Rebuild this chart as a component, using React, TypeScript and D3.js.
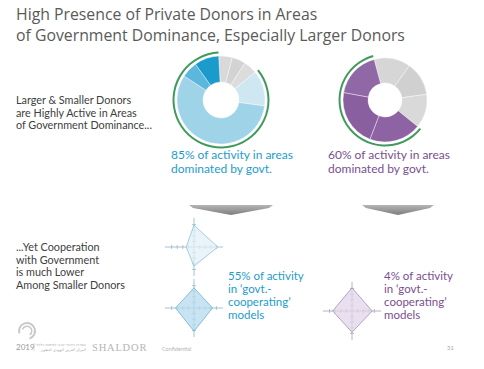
import React from "react";
import * as d3 from "d3";

// donut shares, clockwise from the top
const largeDonorSegments = ["other-a", "other-b", "other-c", "gov-light", "gov-main", "gov-mid", "gov-dark"];
const largeDonorShares = [5, 5, 5, 13, 57, 6, 9];
const smallDonorSegments = ["other-a", "other-b", "other-c", "gov-a", "gov-b", "gov-c"];
const smallDonorShares = [14, 13, 13, 20, 22, 18];

// radar values: top, right, bottom, left
const radarAxes = ["top", "right", "bottom", "left"];
const largeRadarUpper = [0.78, 0.85, 0.68, 0.28];
const largeRadarLower = [0.72, 0.66, 0.83, 0.66];
const smallRadar = [0.83, 0.72, 0.76, 0.69];

const titleLines = ["High Presence of Private Donors in Areas", "of Government Dominance, Especially Larger Donors"];
const topNote = ["Larger & Smaller Donors", "are Highly Active in Areas", "of Government Dominance..."];
const bottomNote = ["...Yet Cooperation", "with Government", "is much Lower", "Among Smaller Donors"];
const largeShareLabel = ["85% of activity in areas", "dominated by govt."];
const smallShareLabel = ["60% of activity in areas", "dominated by govt."];
const largeCoopLabel = ["55% of activity", "in \u2018govt.-", "cooperating\u2019", "models"];
const smallCoopLabel = ["4% of activity", "in \u2018govt.-", "cooperating\u2019", "models"];

const largeColors = ["#d9d9d9", "#d3d3d3", "#dcdcdc", "#cfe7f1", "#9fd3e8", "#5cb7dc", "#1b9bcb"];
const smallColors = ["#d6d6d6", "#d0d0d0", "#d9d9d9", "#8e63a3", "#8a5f9f", "#9068a5"];

const BODY_FONT = "Lato, 'Open Sans', sans-serif";

type DonutProps = {
  cx: number; cy: number; outer: number; inner: number;
  values: number[]; keys: string[]; colors: string[];
  startDeg: number; firstGov: number;
};

const Donut = ({ cx, cy, outer, inner, values, keys, colors, startDeg, firstGov }: DonutProps) => {
  const start = (startDeg * Math.PI) / 180;
  const pie = d3.pie<number>().sort(null).startAngle(start).endAngle(start + 2 * Math.PI);
  const slices = pie(values);
  const arc = d3.arc<d3.PieArcDatum<number>>().innerRadius(inner).outerRadius(outer);
  const ring = d3.arc()({
    innerRadius: outer + 2.5,
    outerRadius: outer + 4.5,
    startAngle: slices[firstGov].startAngle,
    endAngle: slices[slices.length - 1].endAngle,
  } as any);
  return (
    <g transform={`translate(${cx},${cy})`}>
      {slices.map((s, i) => (
        <path key={keys[i]} d={arc(s) || ""} fill={colors[i]} stroke="#fff" strokeWidth={0.4} />
      ))}
      <path d={ring || ""} fill="#3f9a5c" />
    </g>
  );
};

type RadarProps = {
  cx: number; cy: number; R: number; values: number[];
  fill: string; stroke: string; axis: string;
};

const Radar = ({ cx, cy, R, values, fill, stroke, axis }: RadarProps) => {
  const r = d3.scaleLinear().domain([0, 1]).range([0, R]);
  const ticks = r.ticks(5).filter((t) => t > 0 && t < 1);
  const line = d3
    .lineRadial<number>()
    .angle((d, i) => (i * 2 * Math.PI) / radarAxes.length)
    .radius((d) => r(d))
    .curve(d3.curveLinearClosed);
  const ext = r(1.04);
  return (
    <g transform={`translate(${cx},${cy})`}>
      <line x1={-ext} x2={ext} y1={0} y2={0} stroke={axis} strokeWidth={0.8} />
      <line x1={0} x2={0} y1={-ext} y2={ext} stroke={axis} strokeWidth={0.8} />
      {ticks.map((t) => (
        <g key={t} stroke={axis} strokeWidth={0.7}>
          <line x1={r(t)} x2={r(t)} y1={-2} y2={2} />
          <line x1={-r(t)} x2={-r(t)} y1={-2} y2={2} />
          <line y1={r(t)} y2={r(t)} x1={-2} x2={2} />
          <line y1={-r(t)} y2={-r(t)} x1={-2} x2={2} />
        </g>
      ))}
      <path d={line(values) || ""} fill={fill} fillOpacity={0.75} stroke={stroke} strokeWidth={0.8} />
    </g>
  );
};

const TextBlock = ({ x, y, lines, size, gap, color, family = BODY_FONT }: any) => (
  <g fontSize={size} fill={color} fontFamily={family}>
    {lines.map((l: string, i: number) => (
      <text key={i} x={x} y={y + i * gap}>{l}</text>
    ))}
  </g>
);

const Arrow = ({ cx, top, w }: { cx: number; top: number; w: number }) => {
  const p = d3.path();
  p.moveTo(cx - w / 2, top);
  p.lineTo(cx + w / 2, top);
  p.lineTo(cx + w / 2 - 4, top + 3);
  p.lineTo(cx, top + 10);
  p.lineTo(cx - w / 2 + 4, top + 3);
  p.closePath();
  return <path d={p.toString()} fill="url(#arrowGrad)" />;
};

export default function App() {
  const W = 484, H = 369;
  const logoArc = d3.arc()({ innerRadius: 7, outerRadius: 9, startAngle: -0.6 * Math.PI, endAngle: 0.9 * Math.PI } as any);
  const logoArc2 = d3.arc()({ innerRadius: 4, outerRadius: 5.5, startAngle: -0.4 * Math.PI, endAngle: 0.8 * Math.PI } as any);
  return (
    <div style={{ position: "absolute", left: 0, top: 0 }}>
      <svg width={W} height={H} style={{ display: "block", background: "#fff" }}>
        <defs>
          <linearGradient id="arrowGrad" x1="0" y1="0" x2="0" y2="1">
            <stop offset="0" stopColor="#b5b5b5" />
            <stop offset="1" stopColor="#7d7d7d" />
          </linearGradient>
        </defs>

        <TextBlock x={16} y={20} lines={titleLines} size={15.8} gap={21} color="#5a5a5a" family="'Open Sans', sans-serif" />

        <TextBlock x={16} y={104} lines={topNote} size={10.8} gap={12.5} color="#404040" />
        <TextBlock x={16} y={251} lines={bottomNote} size={10.8} gap={12.5} color="#404040" />

        <Donut cx={221} cy={100} outer={44} inner={18} values={largeDonorShares} keys={largeDonorSegments}
          colors={largeColors} startDeg={-3} firstGov={3} />
        <Donut cx={385} cy={100} outer={42} inner={17} values={smallDonorShares} keys={smallDonorSegments}
          colors={smallColors} startDeg={-15} firstGov={3} />

        <TextBlock x={171} y={159} lines={largeShareLabel} size={12} gap={13.5} color="#1d9ccb" />
        <TextBlock x={328} y={159} lines={smallShareLabel} size={12} gap={13.5} color="#7a4f8f" />

        <Arrow cx={231} top={205} w={84} />
        <Arrow cx={398} top={205} w={72} />

        <Radar cx={194} cy={247} R={28} values={largeRadarUpper} fill="#e1eff7" stroke="#8cc3dc" axis="#8fb3c4" />
        <Radar cx={194} cy={308} R={28} values={largeRadarLower} fill="#b6dbee" stroke="#6db3d3" axis="#8fb3c4" />
        <Radar cx={352} cy={311} R={28} values={smallRadar} fill="#e0d6ea" stroke="#a58fb8" axis="#a99db3" />

        <TextBlock x={228} y={280} lines={largeCoopLabel} size={11.5} gap={13} color="#1d9ccb" />
        <TextBlock x={384} y={280} lines={smallCoopLabel} size={11.5} gap={13} color="#7a4f8f" />

        {/* footer */}
        <g transform="translate(27,331)" fill="#c8c8c8">
          <path d={logoArc || ""} />
          <path d={logoArc2 || ""} />
        </g>
        <text x={16} y={350} fontSize={8} fill="#9a9a9a" fontFamily={BODY_FONT}>2019</text>
        <line x1={34} x2={34} y1={343} y2={351} stroke="#bbb" strokeWidth={0.5} />
        <text x={86} y={346} fontSize={3.6} fill="#aaa" textAnchor="end" fontFamily="'DejaVu Sans', sans-serif">המרכז היהודי ערבי לפיתוח כלכלי</text>
        <text x={86} y={351} fontSize={3.6} fill="#aaa" textAnchor="end" fontFamily="'DejaVu Sans', sans-serif">المركز العربي اليهودي للتطوير</text>
        <text x={92} y={351} fontSize={10.5} fill="#b5b5b5" letterSpacing={0.8} fontFamily="'Liberation Serif', serif">SHALDOR</text>
        <text x={162} y={351} fontSize={5.5} fill="#b5b5b5" fontFamily={BODY_FONT}>Confidential</text>
        <text x={447} y={350} fontSize={6} fill="#aaa" fontFamily={BODY_FONT}>31</text>
      </svg>
    </div>
  );
}
